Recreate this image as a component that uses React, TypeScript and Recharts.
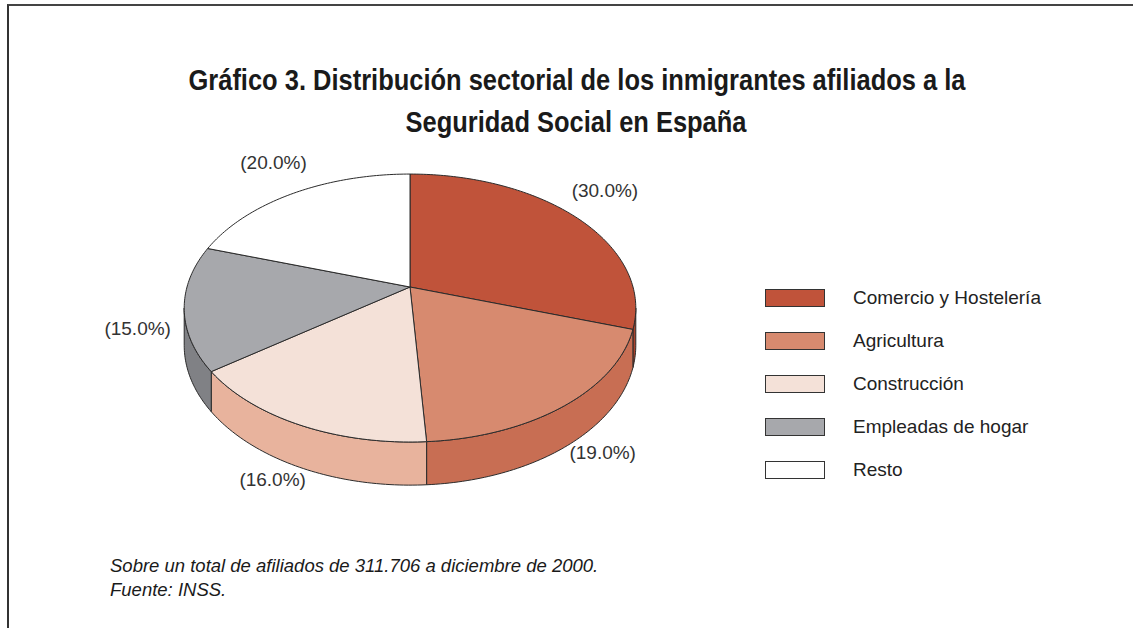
import React from 'react';
import { PieChart, Pie, Cell } from 'recharts';

const sectors = ['Comercio y Hostelería', 'Agricultura', 'Construcción', 'Empleadas de hogar', 'Resto'];
const shares = [30, 19, 16, 15, 20];
const shareLabels = ['(30.0%)', '(19.0%)', '(16.0%)', '(15.0%)', '(20.0%)'];
const topColors = ['#C0533A', '#D78A6F', '#F4E1D8', '#A7A8AC', '#FFFFFF'];
const sideColors = ['#A9422C', '#C86E53', '#E8B39D', '#808185', '#E6E6E6'];

const data = sectors.map((name, i) => ({ name, value: shares[i], label: shareLabels[i] }));

// perspective of the tilted disc
const TILT = 0.586;
const PERSP = 0.157;
const DEPTH = 0.163;
const RAD = Math.PI / 180;
const FONT = '"Liberation Sans", Arial, sans-serif';

function project(cx: number, cy: number, r: number, deg: number, t = 1, drop = 0) {
  const u = t * Math.cos(deg * RAD);
  const v = t * Math.sin(deg * RAD);
  const d = 1 + PERSP * v;
  return [cx + (r * u) / d, cy - (r * TILT * v) / d + (r * DEPTH * drop) / d];
}

function arcPoints(cx: number, cy: number, r: number, a0: number, a1: number, drop = 0) {
  const steps = Math.max(2, Math.ceil(Math.abs(a1 - a0)));
  const pts: number[][] = [];
  for (let s = 0; s <= steps; s++) pts.push(project(cx, cy, r, a0 + ((a1 - a0) * s) / steps, 1, drop));
  return pts;
}

const toPath = (pts: number[][]) => pts.map((p) => `${p[0].toFixed(2)},${p[1].toFixed(2)}`).join('L');

function Slice3D(props: any) {
  const { cx, cy, outerRadius: r, startAngle, endAngle, fill } = props;
  const i = sectors.indexOf(props.payload?.name ?? props.name);
  const top = `M${cx},${cy}L${toPath(arcPoints(cx, cy, r, startAngle, endAngle))}Z`;
  const lim = Math.asin(PERSP) / RAD;
  const hi = Math.min(startAngle, -lim);
  const lo = Math.max(endAngle, -180 + lim);
  let wall = '';
  if (hi > lo) {
    const upper = arcPoints(cx, cy, r, hi, lo);
    const lower = arcPoints(cx, cy, r, lo, hi, 1);
    wall = `M${toPath(upper)}L${toPath(lower)}Z`;
  }
  return (
    <g>
      {wall && <path d={wall} fill={sideColors[i] ?? fill} stroke="#2b2b2b" strokeWidth={1} />}
      <path d={top} fill={fill} stroke="#2b2b2b" strokeWidth={1} />
    </g>
  );
}

function renderLabel(props: any) {
  const { cx, cy, outerRadius, midAngle, payload } = props;
  const front = Math.sin(midAngle * RAD) < 0 ? 0.8 : 0;
  const [x, y] = project(cx, cy, outerRadius, midAngle, 1.2, front);
  return (
    <text x={x} y={y - 14} textAnchor="middle" dominantBaseline="central" fill="#333" fontSize={19} fontFamily={FONT}>
      {payload?.label ?? props.label}
    </text>
  );
}

function LegendBox() {
  return (
    <div style={{ position: 'absolute', left: 765, top: 276 }}>
      {sectors.map((name, i) => (
        <div key={name} style={{ display: 'flex', alignItems: 'center', height: 43 }}>
          <span
            style={{
              display: 'inline-block',
              width: 58,
              height: 16,
              border: '1px solid #333',
              background: topColors[i],
            }}
          />
          <span style={{ marginLeft: 28, fontFamily: FONT, fontSize: 19, color: '#222', whiteSpace: 'nowrap' }}>{name}</span>
        </div>
      ))}
    </div>
  );
}

export default function App() {
  return (
    <div style={{ position: 'absolute', left: 0, top: 0, width: 1133, height: 628, background: '#fff', overflow: 'hidden' }}>
      <div
        style={{
          position: 'absolute',
          left: 7,
          top: 4,
          width: 1140,
          height: 640,
          borderTop: '2px solid #444',
          borderLeft: '2px solid #333',
          boxSizing: 'border-box',
        }}
      />
      <svg width={1133} height={628} style={{ position: 'absolute', left: 0, top: 0 }}>
        <g fontFamily={FONT} fontWeight="bold" fontSize={29} fill="#1a1a1a" textAnchor="middle">
          <text x={577} y={90} textLength={777} lengthAdjust="spacingAndGlyphs">
            Gráfico 3. Distribución sectorial de los inmigrantes afiliados a la
          </text>
          <text x={576} y={132} textLength={341} lengthAdjust="spacingAndGlyphs">
            Seguridad Social en España
          </text>
        </g>
        <g fontFamily={FONT} fontStyle="italic" fontSize={18.5} fill="#1a1a1a">
          <text x={110} y={572}>Sobre un total de afiliados de 311.706 a diciembre de 2000.</text>
          <text x={110} y={596}>Fuente: INSS.</text>
        </g>
      </svg>
      <div style={{ position: 'absolute', left: 0, top: 0 }}>
        <PieChart width={1133} height={628} margin={{ top: 0, right: 0, bottom: 0, left: 0 }}>
          <Pie
            data={data}
            dataKey="value"
            nameKey="name"
            cx={410}
            cy={287}
            outerRadius={223}
            startAngle={90}
            endAngle={-270}
            shape={Slice3D}
            label={renderLabel}
            labelLine={false}
            isAnimationActive={false}
          >
            {data.map((d, i) => (
              <Cell key={d.name} fill={topColors[i]} />
            ))}
          </Pie>
        </PieChart>
      </div>
      <LegendBox />
    </div>
  );
}
